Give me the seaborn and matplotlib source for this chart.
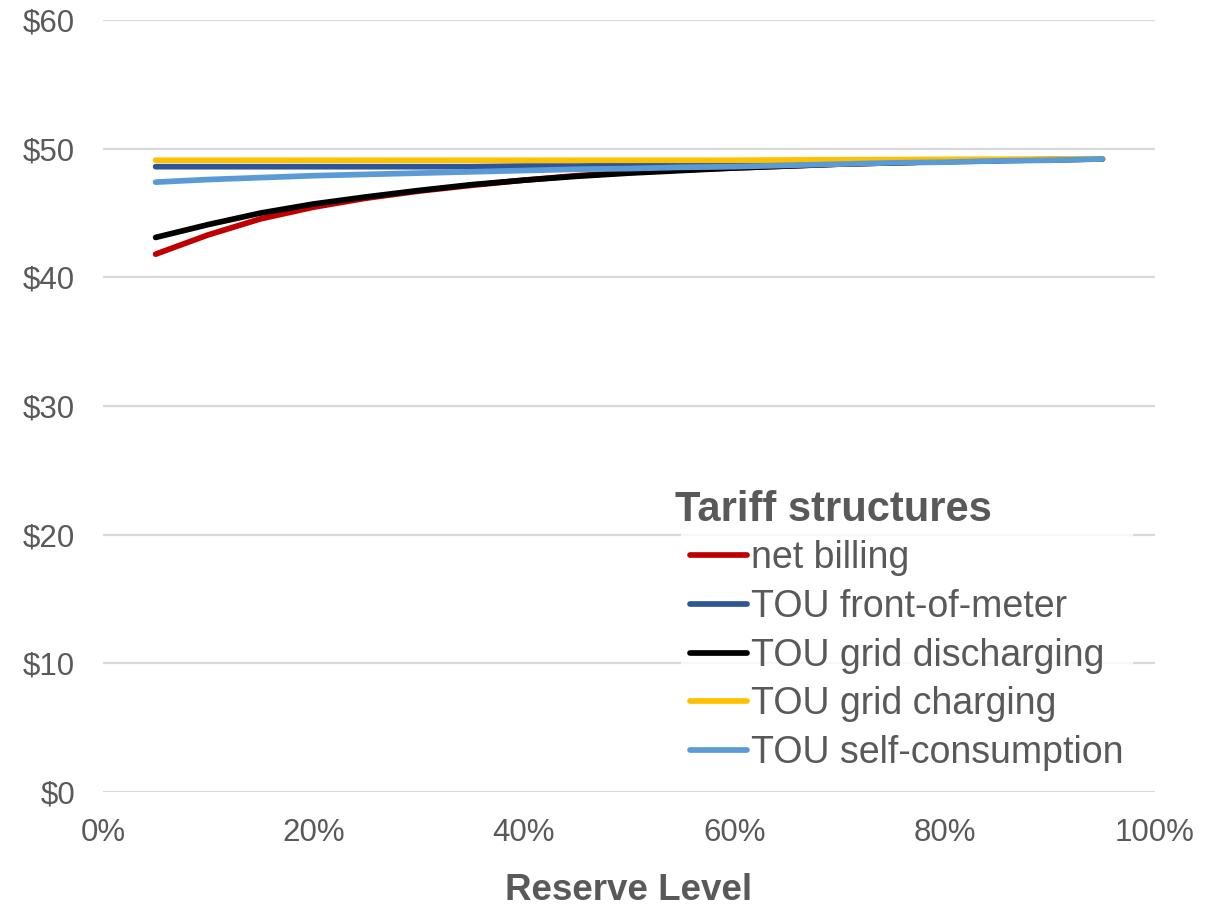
import numpy as np
import pandas as pd
import seaborn as sns
import matplotlib.pyplot as plt
import matplotlib.transforms as mtransforms
from matplotlib.ticker import FuncFormatter, MultipleLocator

# Reserve level (%) for each simulated run
reserve = [5, 10, 15, 20, 25, 30, 35, 40, 45, 50, 55, 60, 65, 70, 75, 80, 85, 90, 95]

net_billing = [41.8, 43.3, 44.55, 45.45, 46.15, 46.7, 47.15, 47.55, 47.9, 48.15, 48.35,
               48.5, 48.65, 48.8, 48.9, 49.0, 49.1, 49.15, 49.2]
tou_front_of_meter = [48.6, 48.6, 48.6, 48.6, 48.6, 48.6, 48.6, 48.65, 48.65, 48.7, 48.7,
                      48.75, 48.8, 48.85, 48.9, 49.0, 49.05, 49.15, 49.2]
tou_grid_discharging = [43.1, 44.1, 45.0, 45.7, 46.25, 46.75, 47.2, 47.55, 47.85, 48.1, 48.3,
                        48.5, 48.65, 48.8, 48.9, 49.0, 49.1, 49.15, 49.2]
tou_grid_charging = [49.1, 49.1, 49.1, 49.1, 49.1, 49.1, 49.1, 49.1, 49.1, 49.1, 49.1,
                     49.1, 49.12, 49.14, 49.15, 49.17, 49.18, 49.2, 49.22]
tou_self_consumption = [47.4, 47.6, 47.75, 47.9, 48.0, 48.1, 48.2, 48.3, 48.4, 48.45, 48.55,
                        48.6, 48.7, 48.8, 48.9, 48.95, 49.05, 49.1, 49.2]

series_names = ["net billing", "TOU front-of-meter", "TOU grid discharging",
                "TOU grid charging", "TOU self-consumption"]
series_values = [net_billing, tou_front_of_meter, tou_grid_discharging,
                 tou_grid_charging, tou_self_consumption]
colors = ["#C00000", "#2F5597", "#000000", "#FFC000", "#5B9BD5"]

frames = []
for name, vals in zip(series_names, series_values):
    frames.append(pd.DataFrame({"reserve": np.array(reserve) / 100.0,
                                "cost": vals, "tariff": name}))
df = pd.concat(frames, ignore_index=True)

sns.set_theme(style="white")
plt.rcParams["font.family"] = ["Liberation Sans", "DejaVu Sans"]

W, H = 1218, 907
fig = plt.figure(figsize=(W / 100, H / 100), dpi=100)
ax = fig.add_axes([103 / W, 1 - 792 / H, (1155 - 103) / W, (792 - 20) / H])

sns.lineplot(data=df, x="reserve", y="cost", hue="tariff", hue_order=series_names,
             palette=dict(zip(series_names, colors)), linewidth=4.1, ax=ax,
             solid_capstyle="round", sort=True)

ax.set_xlim(0, 1)
ax.set_ylim(0, 60)
ax.xaxis.set_major_locator(MultipleLocator(0.2))
ax.yaxis.set_major_locator(MultipleLocator(10))
ax.xaxis.set_major_formatter(FuncFormatter(lambda v, p: f"{v * 100:.0f}%"))
ax.yaxis.set_major_formatter(FuncFormatter(lambda v, p: f"${v:.0f}"))

for s in ax.spines.values():
    s.set_visible(False)
ax.grid(axis="y", color="#D9D9D9", linewidth=1.6)
ax.grid(axis="x", visible=False)
ax.set_axisbelow(True)

ax.tick_params(axis="both", length=0, labelsize=22.5, colors="#595959")
ax.tick_params(axis="x", pad=19)
ax.tick_params(axis="y", pad=20)

ax.set_ylabel("")
ax.set_xlabel("Reserve Level", fontsize=26.5, fontweight="bold", color="#595959", labelpad=18)

leg = ax.legend(title="Tariff structures", loc="upper left",
                bbox_to_anchor=(681 / W, 1 - 478 / H), bbox_transform=fig.transFigure,
                frameon=True, fontsize=27, title_fontsize=30, handlelength=1.5,
                handletextpad=0.12, labelspacing=0.34, borderpad=0.25,
                borderaxespad=0)
leg.get_frame().set_facecolor("white")
leg.get_frame().set_edgecolor("none")
title = leg.get_title()
title.set_fontweight("bold")
title.set_color("#595959")
# pull the title slightly left of the legend handles and a touch lower
title.set_transform(title.get_transform() + mtransforms.Affine2D().translate(-15, -3))
leg._legend_box.align = "left"
for t in leg.get_texts():
    t.set_color("#595959")
for l in leg.get_lines():
    l.set_linewidth(4.1)
    l.set_solid_capstyle("round")

fig.savefig("out.png", dpi=100)
